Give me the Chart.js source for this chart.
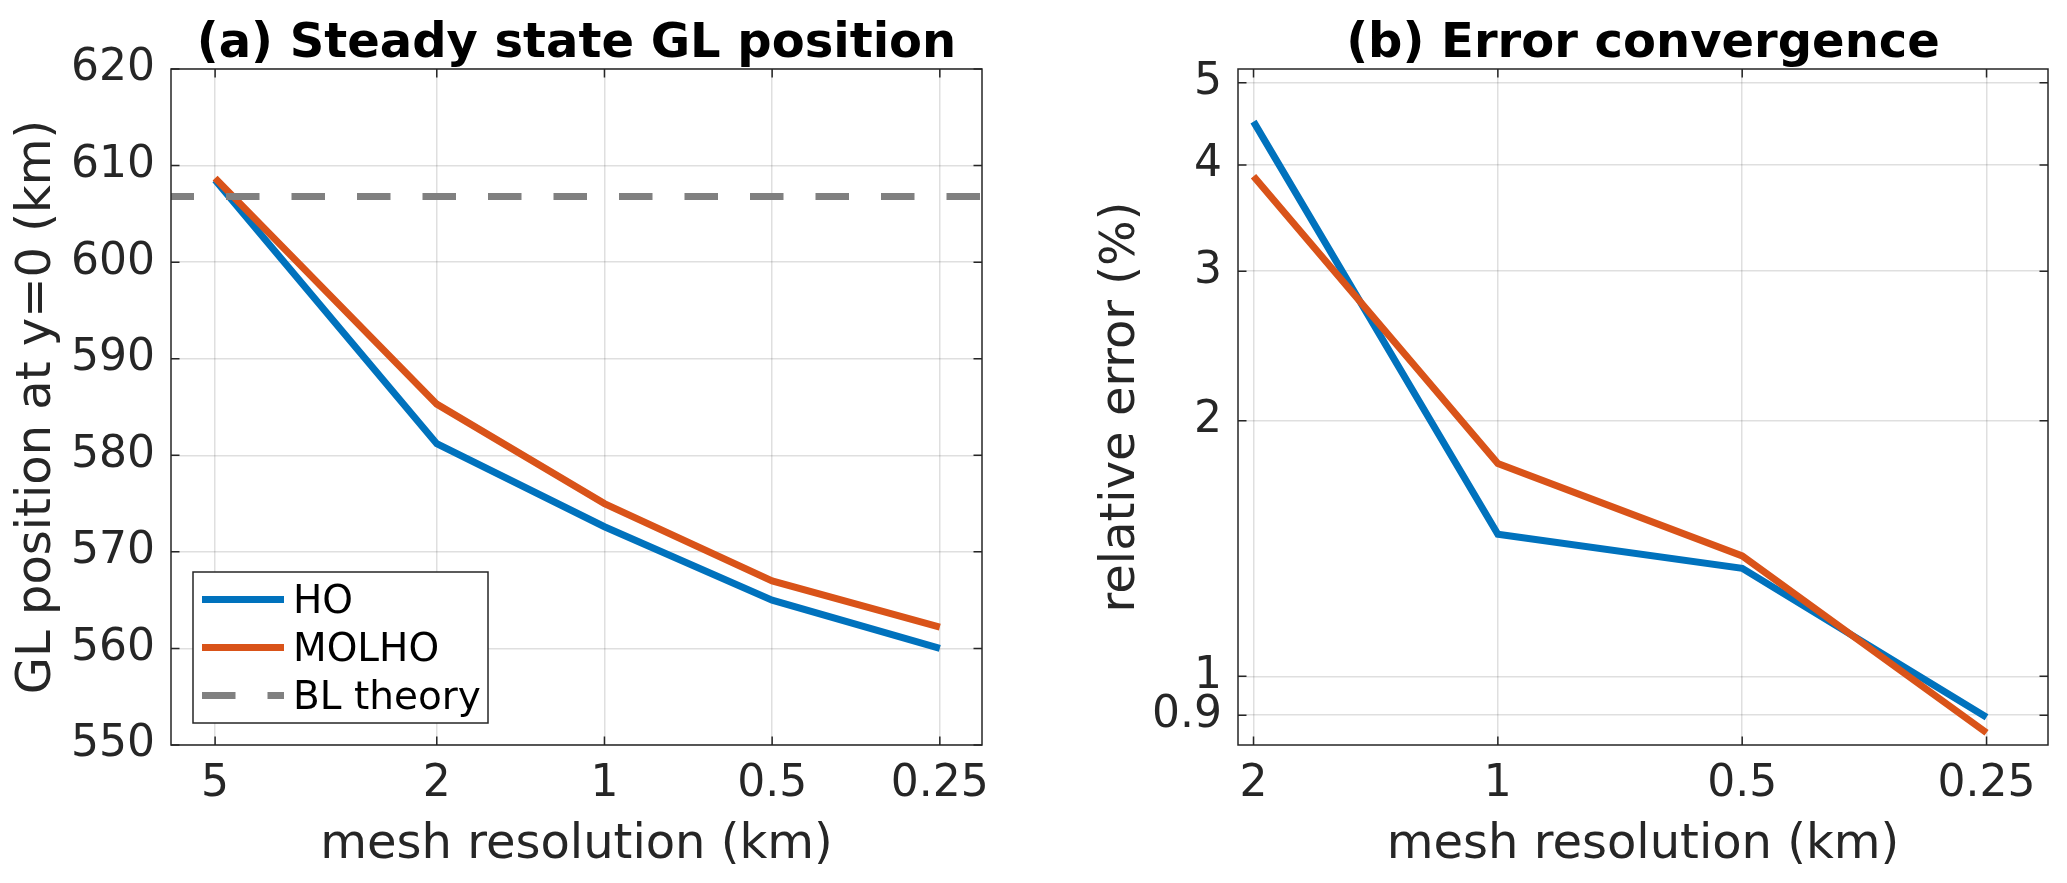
<!DOCTYPE html>
<html>
<head>
<meta charset="utf-8">
<title>GL position and error convergence</title>
<script src="https://cdn.jsdelivr.net/npm/chart.js@4.4.1/dist/chart.umd.min.js"></script>
<style>
  html, body { margin: 0; padding: 0; background: #fff; overflow: hidden; }
  .panel { position: absolute; top: 0; height: 883px; }
  #panelA { left: 0; width: 1010px; }
  #panelB { left: 1060px; width: 1007px; }
</style>
</head>
<body>
<div class="panel" id="panelA"><canvas id="glChart"></canvas></div>
<div class="panel" id="panelB"><canvas id="errChart"></canvas></div>
<script>
// --- values ---
// (a) steady state grounding line position
const resolutionA = [5, 2, 1, 0.5, 0.25];          // mesh resolution (km)
const glHO = [608.5, 581.2, 572.6, 565.0, 560.0];
const glMOLHO = [608.7, 585.3, 575.0, 567.0, 562.2];
const blTheory = 606.8;

// (b) relative error (%)
const resolutionB = [2, 1, 0.5, 0.25];
const errHO = [4.50, 1.47, 1.34, 0.895];
const errMOLHO = [3.88, 1.78, 1.386, 0.858];

// axis limits and tick labels
const xLimA = [0.21, 6];
const xTicksA = [5, 2, 1, 0.5, 0.25];
const yLimA = [550, 620];
const yTicksA = [550, 560, 570, 580, 590, 600, 610, 620];

const xLimB = [0.21, 2.09];
const xTicksB = [2, 1, 0.5, 0.25];
const yLimB = [0.83, 5.19];
const yTicksB = [0.9, 1, 2, 3, 4, 5];

// --- styling ---
const FONT = '"DejaVu Sans", sans-serif';
const AXIS_COLOR = '#262626';
const GRID_COLOR = 'rgba(38,38,38,0.15)';
const BLUE = '#0072BD';
const ORANGE = '#D95319';
const GRAY = '#808080';
const TICK_LEN = 8.5;

// box round the axes, inward ticks on all four sides, and the bold title
const axesFrame = {
    id: 'axesFrame',
    afterDraw(chart, args, opts) {
        const { ctx, chartArea: a, scales } = chart;
        ctx.save();
        ctx.strokeStyle = AXIS_COLOR;
        ctx.lineWidth = 1.5;
        ctx.beginPath();
        scales.x.ticks.forEach(t => {
            const px = scales.x.getPixelForValue(t.value);
            ctx.moveTo(px, a.bottom); ctx.lineTo(px, a.bottom - TICK_LEN);
            ctx.moveTo(px, a.top); ctx.lineTo(px, a.top + TICK_LEN);
        });
        scales.y.ticks.forEach(t => {
            const py = scales.y.getPixelForValue(t.value);
            ctx.moveTo(a.left, py); ctx.lineTo(a.left + TICK_LEN, py);
            ctx.moveTo(a.right, py); ctx.lineTo(a.right - TICK_LEN, py);
        });
        ctx.stroke();
        ctx.strokeRect(a.left, a.top, a.right - a.left, a.bottom - a.top);

        ctx.fillStyle = '#000';
        ctx.font = 'bold 48px ' + FONT;
        ctx.textAlign = 'center';
        ctx.textBaseline = 'alphabetic';
        ctx.fillText(opts.text, (a.left + a.right) / 2, 57);
        ctx.restore();
    }
};

// MATLAB-like legend box in the lower left corner of panel (a)
const boxLegend = {
    id: 'boxLegend',
    afterDraw(chart, args, opts) {
        if (!opts.show) return;
        const { ctx, chartArea: a } = chart;
        const w = 295, h = 151;
        const x0 = a.left + 22, y0 = a.bottom - 22 - h;
        ctx.save();
        ctx.fillStyle = '#fff';
        ctx.fillRect(x0, y0, w, h);
        ctx.strokeStyle = AXIS_COLOR;
        ctx.lineWidth = 1.5;
        ctx.strokeRect(x0, y0, w, h);

        ctx.font = '39px ' + FONT;
        ctx.textAlign = 'left';
        ctx.textBaseline = 'alphabetic';
        chart.data.datasets.forEach((ds, i) => {
            const cy = y0 + 27.5 + i * 48;
            ctx.strokeStyle = ds.borderColor;
            ctx.lineWidth = ds.borderWidth;
            ctx.setLineDash(ds.borderDash || []);
            ctx.lineDashOffset = 0;
            ctx.beginPath();
            ctx.moveTo(x0 + 9, cy);
            ctx.lineTo(x0 + 91, cy);
            ctx.stroke();
            ctx.setLineDash([]);
            ctx.fillStyle = '#000';
            ctx.fillText(ds.label, x0 + 100, y0 + 41 + i * 48);
        });
        ctx.restore();
    }
};

function tickFont() {
    return { family: FONT, size: 44 };
}

function makeOptions(cfg) {
    return {
        responsive: true,
        maintainAspectRatio: false,
        animation: false,
        devicePixelRatio: 1,
        events: [],
        layout: { padding: { left: 0, right: cfg.rightPad, top: 69, bottom: 0 } },
        elements: {
            line: { tension: 0, borderWidth: 7 },
            point: { radius: 0 }
        },
        scales: {
            x: {
                type: 'logarithmic',
                reverse: true,
                min: cfg.xLim[0],
                max: cfg.xLim[1],
                afterBuildTicks: s => { s.ticks = cfg.xTicks.map(v => ({ value: v })); },
                afterFit: s => { s.height = 138; },
                ticks: {
                    callback: v => String(v),
                    font: tickFont(), color: AXIS_COLOR,
                    padding: 13, maxRotation: 0, autoSkip: false
                },
                grid: { color: GRID_COLOR, lineWidth: 1.5, drawTicks: false },
                border: { display: false },
                title: {
                    display: true, text: 'mesh resolution (km)',
                    font: { family: FONT, size: 48 }, color: AXIS_COLOR,
                    padding: { top: 0, bottom: 9 }
                }
            },
            y: {
                type: cfg.yType,
                min: cfg.yLim[0],
                max: cfg.yLim[1],
                afterBuildTicks: s => { s.ticks = cfg.yTicks.map(v => ({ value: v })); },
                afterFit: s => { s.width = cfg.yWidth; },
                ticks: {
                    callback: v => String(v),
                    font: tickFont(), color: AXIS_COLOR,
                    padding: 16, autoSkip: false
                },
                grid: { color: GRID_COLOR, lineWidth: 1.5, drawTicks: false },
                border: { display: false },
                title: {
                    display: true, text: cfg.yTitle,
                    font: { family: FONT, size: 48 }, color: AXIS_COLOR,
                    padding: { top: cfg.yTitlePad, bottom: 0 }
                }
            }
        },
        plugins: {
            legend: { display: false },
            tooltip: { enabled: false },
            axesFrame: { text: cfg.title },
            boxLegend: { show: cfg.legend }
        }
    };
}

const toPoints = (xs, ys) => xs.map((x, i) => ({ x: x, y: ys[i] }));

// --- (a) GL position ---
new Chart(document.getElementById('glChart'), {
    type: 'line',
    data: {
        datasets: [
            { label: 'HO', data: toPoints(resolutionA, glHO), borderColor: BLUE, borderWidth: 7, order: 2 },
            { label: 'MOLHO', data: toPoints(resolutionA, glMOLHO), borderColor: ORANGE, borderWidth: 7, order: 1 },
            {
                label: 'BL theory',
                data: [{ x: xLimA[1], y: blTheory }, { x: xLimA[0], y: blTheory }],
                borderColor: GRAY, borderWidth: 7,
                borderDash: [33.5, 32], borderDashOffset: 10.5, order: 0
            }
        ]
    },
    options: makeOptions({
        xLim: xLimA, xTicks: xTicksA,
        yType: 'linear', yLim: yLimA, yTicks: yTicksA,
        yWidth: 171, yTitle: 'GL position at y=0 (km)', yTitlePad: 9,
        rightPad: 28, title: '(a) Steady state GL position', legend: true
    }),
    plugins: [axesFrame, boxLegend]
});

// --- (b) error convergence ---
new Chart(document.getElementById('errChart'), {
    type: 'line',
    data: {
        datasets: [
            { label: 'HO', data: toPoints(resolutionB, errHO), borderColor: BLUE, borderWidth: 7, order: 1 },
            { label: 'MOLHO', data: toPoints(resolutionB, errMOLHO), borderColor: ORANGE, borderWidth: 7, order: 0 }
        ]
    },
    options: makeOptions({
        xLim: xLimB, xTicks: xTicksB,
        yType: 'logarithmic', yLim: yLimB, yTicks: yTicksB,
        yWidth: 178, yTitle: 'relative error (%)', yTitlePad: 33,
        rightPad: 19, title: '(b) Error convergence', legend: false
    }),
    plugins: [axesFrame, boxLegend]
});
</script>
</body>
</html>
